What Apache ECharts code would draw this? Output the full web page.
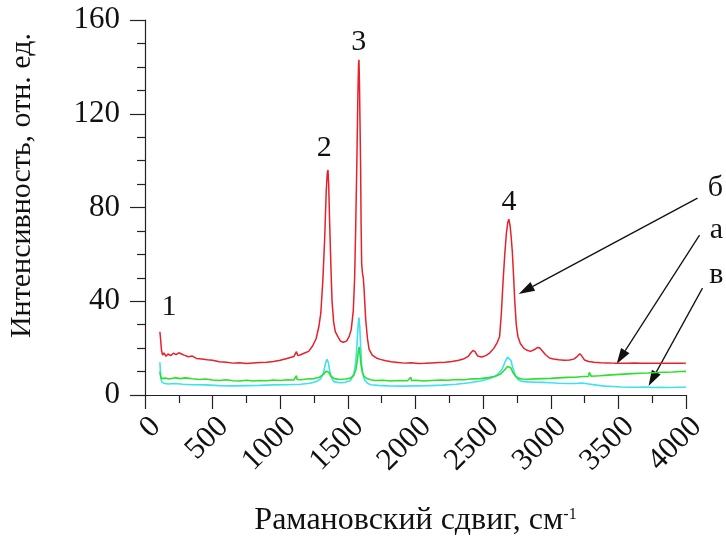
<!DOCTYPE html>
<html>
<head>
<meta charset="utf-8">
<script src="https://cdn.jsdelivr.net/npm/echarts@6/dist/echarts.min.js"></script>
<style>
  html, body { margin: 0; padding: 0; background: #fff; }
  #main { width: 726px; height: 536px; }
</style>
</head>
<body>
<div id="main"></div>
<script>
// спектр б (красный)
const redX = [110, 115, 122, 130, 140, 155, 170, 190, 210, 230, 250, 270, 290, 320, 350, 380, 420, 460, 500, 550,
  600, 650, 700, 750, 800, 850, 900, 950, 1000, 1050, 1100, 1120, 1130, 1150, 1180, 1210, 1240, 1265, 1285, 1300,
  1315, 1328, 1340, 1348, 1353, 1358, 1365, 1375, 1383, 1395, 1407, 1425, 1445, 1465, 1490, 1510, 1525, 1540, 1550,
  1558, 1566, 1574, 1579, 1582, 1586, 1590, 1594, 1598, 1602, 1608, 1614, 1620, 1632, 1645, 1657, 1680, 1710, 1740,
  1780, 1820, 1870, 1920, 1970, 2020, 2070, 2120, 2170, 2220, 2270, 2320, 2360, 2390, 2410, 2425, 2440, 2460, 2490,
  2520, 2550, 2580, 2605, 2622, 2635, 2647, 2660, 2672, 2682, 2690, 2700, 2708, 2716, 2725, 2733, 2745, 2757, 2775,
  2800, 2820, 2850, 2880, 2900, 2915, 2935, 2960, 2990, 3020, 3060, 3100, 3140, 3170, 3195, 3215, 3230, 3250, 3280,
  3320, 3370, 3420, 3470, 3520, 3570, 3620, 3670, 3720, 3770, 3820, 3870, 3920, 3970, 4000];
const redY = [27, 24, 19, 17, 18, 16.5, 17.5, 16.8, 17.8, 17.2, 18, 17.5, 17, 16.3, 16.6, 15.6, 15.4, 15.0, 14.8, 14.2,
  14.0, 13.6, 13.8, 13.4, 13.7, 13.9, 14.0, 14.3, 14.8, 15.6, 16.4, 18.5, 16.8, 17.2, 17.9, 18.6, 21, 24, 29, 35,
  49, 66, 87, 95, 96, 90, 74, 54, 40, 31, 27, 25, 23, 22.5, 23, 25, 28, 36, 50,
  72, 98, 128, 141, 143, 132, 115, 98, 72, 56, 52, 50, 45, 32, 24, 19.5, 17, 15.8, 15.2,
  14.6, 14.2, 13.9, 13.6, 13.8, 13.4, 13.5, 13.7, 13.9, 14.0, 14.3, 14.8, 15.5, 16.5, 18, 19, 18.5, 16.6, 16.2,
  16.8, 18, 20, 22.5, 25, 35, 48, 60, 69, 73.5, 75, 72, 67, 61, 51, 41, 30, 25, 22,
  20, 19.2, 18.6, 19.4, 20.2, 20.3, 19.0, 17.3, 15.8, 15.4, 15.0, 14.8, 14.9, 15.3, 16.4, 17.6, 16.6, 14.9, 14.3,
  14.0, 13.8, 13.7, 13.6, 13.6, 13.5, 13.7, 13.5, 13.6, 13.5, 13.6, 13.5, 13.6, 13.5, 13.6];

// спектр а (зелёный)
const greenX = [110, 114, 120, 130, 150, 180, 220, 260, 300, 350, 400, 450, 500, 550, 600, 650, 700, 750, 800, 850,
  900, 950, 1000, 1050, 1100, 1120, 1125, 1150, 1200, 1250, 1290, 1320, 1340, 1350, 1360, 1375, 1400, 1440, 1480,
  1520, 1545, 1560, 1570, 1578, 1584, 1590, 1598, 1608, 1620, 1640, 1670, 1700, 1760, 1820, 1880, 1940, 1965, 1970,
  2000, 2060, 2120, 2180, 2240, 2300, 2360, 2420, 2480, 2540, 2590, 2630, 2660, 2680, 2692, 2705, 2720, 2740, 2760,
  2790, 2830, 2880, 2940, 3000, 3060, 3120, 3180, 3240, 3280, 3285, 3300, 3360, 3420, 3480, 3540, 3600, 3660, 3720,
  3780, 3840, 3900, 3960, 4000];
const greenY = [10, 8.5, 7, 6.5, 7.2, 6.8, 7.4, 7.0, 7.3, 6.9, 6.6, 6.8, 6.4, 6.2, 6.5, 6.1, 6.0, 6.3, 6.0, 6.2,
  6.1, 6.4, 6.2, 6.5, 6.4, 8.2, 6.6, 6.5, 6.8, 7.0, 7.6, 8.8, 10.2, 10.5, 9.6, 8.0, 7.0, 6.6, 6.8,
  7.2, 8.5, 11, 15, 19, 20.5, 17, 12.5, 9.5, 8, 7, 6.5, 6.2, 6.3, 6.0, 6.2, 6.1, 7.6, 6.2,
  6.3, 6.0, 6.2, 6.4, 6.3, 6.6, 6.5, 6.9, 7.0, 7.4, 8.0, 9.0, 10.8, 12.2, 12.6, 11.6, 9.6, 8.0, 7.2,
  6.8, 6.7, 6.9, 7.0, 7.1, 7.3, 7.5, 7.6, 7.9, 7.9, 9.6, 8.0, 8.2, 8.5, 8.7, 8.9, 9.1, 9.3, 9.4,
  9.6, 9.7, 9.8, 10.0, 10.1];

// спектр в (голубой)
const cyanX = [110, 114, 118, 125, 140, 170, 220, 280, 350, 450, 550, 650, 750, 850, 950, 1050, 1150, 1220, 1270, 1300,
  1320, 1335, 1345, 1355, 1365, 1380, 1400, 1440, 1480, 1520, 1545, 1558, 1568, 1576, 1582, 1588, 1594, 1602, 1612,
  1625, 1645, 1670, 1720, 1800, 1900, 2000, 2100, 2200, 2300, 2400, 2480, 2550, 2600, 2640, 2665, 2680, 2692, 2705,
  2720, 2740, 2760, 2790, 2830, 2880, 2940, 3000, 3060, 3120, 3180, 3230, 3280, 3340, 3400, 3460, 3520, 3580, 3640,
  3700, 3760, 3820, 3880, 3940, 4000];
const cyanY = [14, 10, 7, 5.5, 5.0, 4.7, 4.9, 4.6, 4.4, 4.3, 4.0, 3.9, 4.0, 4.1, 4.3, 4.4, 4.6, 5.0, 5.8, 7.0,
  9.5, 13.5, 15.2, 14, 10.5, 7.0, 5.6, 5.2, 5.4, 6.2, 9, 14, 22, 30, 33, 29, 21, 13, 8.5,
  6.3, 5.0, 4.4, 4.1, 3.9, 3.8, 3.9, 4.0, 4.2, 4.6, 5.2, 6.0, 7.0, 8.3, 11, 14.5, 16.2, 16.4, 14.8,
  11.5, 8.2, 6.5, 5.8, 5.6, 5.5, 5.4, 5.2, 5.0, 4.9, 4.9, 5.1, 4.7, 4.2, 3.8, 3.6, 3.4, 3.3, 3.3,
  3.4, 3.2, 3.3, 3.2, 3.3, 3.3];

// подписи пиков и кривых (в координатах данных)
const peakNames = ['1', '2', '3', '4'];
const peakAt = [[177, 37.7], [1325, 105.2], [1581, 150.7], [2691, 82.5]];
const curveNames = ['б', 'а', 'в'];
const curveNameAt = [[4218, 88.2], [4225, 70.4], [4225, 51.2]];
const arrowFrom = [[4085, 84.0], [4100, 68.2], [4122, 45.6]];
const arrowTo = [[2763, 43.1], [3487, 13.2], [3723, 3.8]];

const serif = '"Liberation Serif", "Times New Roman", serif';
const ink = '#111';
const axisInk = '#222';

function zip (xs, ys) {
  return xs.map((x, i) => [x, ys[i]]);
}

const chart = echarts.init(document.getElementById('main'));

const option = {
  animation: false,
  backgroundColor: '#fff',
  grid: { left: 145, right: 40, top: 20, bottom: 141, outerBoundsContain: 'axisLabel' },
  xAxis: {
    type: 'value',
    min: 0,
    max: 4000,
    interval: 500,
    name: '{t|Рамановский сдвиг, см}{s|-1}',
    nameLocation: 'middle',
    nameGap: 112,
    nameTextStyle: {
      rich: {
        t: { fontFamily: serif, fontSize: 32, color: ink, lineHeight: 28 },
        s: { fontFamily: serif, fontSize: 16, color: ink, lineHeight: 16, verticalAlign: 'top' }
      }
    },
    axisLine: { onZero: false, lineStyle: { color: axisInk, width: 1.2 } },
    axisTick: { show: true, length: 14, lineStyle: { color: axisInk, width: 1.2 } },
    minorTick: { show: true, splitNumber: 2, length: 8, lineStyle: { color: axisInk, width: 1.2 } },
    splitLine: { show: false },
    minorSplitLine: { show: false },
    axisLabel: {
      rotate: 45,
      margin: 16,
      align: 'right',
      verticalAlign: 'top',
      fontFamily: serif,
      fontSize: 31,
      color: ink,
      showMinLabel: true,
      showMaxLabel: true,
      formatter: v => String(v)
    }
  },
  yAxis: {
    type: 'value',
    min: 0,
    max: 160,
    interval: 40,
    name: 'Интенсивность, отн. ед.',
    nameLocation: 'middle',
    nameGap: 108,
    nameTextStyle: { fontFamily: serif, fontSize: 30, color: ink, padding: [0, 0, 0, 44] },
    axisLine: { show: true, lineStyle: { color: axisInk, width: 1.2 } },
    axisTick: { show: true, length: 15, lineStyle: { color: axisInk, width: 1.2 } },
    minorTick: { show: true, splitNumber: 4, length: 8, lineStyle: { color: axisInk, width: 1.2 } },
    splitLine: { show: false },
    minorSplitLine: { show: false },
    axisLabel: { margin: 25, fontFamily: serif, fontSize: 31, color: ink }
  },
  series: [
    {
      name: 'в',
      type: 'line',
      data: zip(cyanX, cyanY),
      showSymbol: false,
      symbol: 'none',
      lineStyle: { color: '#3ee2ee', width: 1.6 }
    },
    {
      name: 'а',
      type: 'line',
      data: zip(greenX, greenY),
      showSymbol: false,
      symbol: 'none',
      lineStyle: { color: '#2fde2f', width: 1.6 }
    },
    {
      name: 'б',
      type: 'line',
      data: zip(redX, redY),
      showSymbol: false,
      symbol: 'none',
      lineStyle: { color: '#e8202a', width: 1.5 }
    }
  ]
};

chart.setOption(option);

// текстовые метки и стрелки
const toPx = p => chart.convertToPixel({ xAxisIndex: 0, yAxisIndex: 0 }, p);
const graphics = [];

peakNames.forEach((t, i) => {
  const p = toPx(peakAt[i]);
  graphics.push({
    type: 'text', x: p[0], y: p[1],
    style: { text: t, font: '30px ' + serif, fill: ink, textAlign: 'center', textVerticalAlign: 'middle' }
  });
});

curveNames.forEach((t, i) => {
  const p = toPx(curveNameAt[i]);
  graphics.push({
    type: 'text', x: p[0], y: p[1],
    style: { text: t, font: '30px ' + serif, fill: ink, textAlign: 'center', textVerticalAlign: 'middle' }
  });
});

arrowFrom.forEach((f, i) => {
  const a = toPx(f);
  const b = toPx(arrowTo[i]);
  const dx = b[0] - a[0];
  const dy = b[1] - a[1];
  const len = Math.sqrt(dx * dx + dy * dy);
  const ux = dx / len;
  const uy = dy / len;
  const headL = 16;
  const headW = 5;
  const bx = b[0] - ux * headL;
  const by = b[1] - uy * headL;
  graphics.push({
    type: 'line',
    shape: { x1: a[0], y1: a[1], x2: bx, y2: by },
    style: { stroke: ink, lineWidth: 1.3 }
  });
  graphics.push({
    type: 'polygon',
    shape: { points: [[b[0], b[1]], [bx - uy * headW, by + ux * headW], [bx + uy * headW, by - ux * headW]] },
    style: { fill: ink }
  });
});

chart.setOption({ graphic: graphics });
</script>
</body>
</html>
